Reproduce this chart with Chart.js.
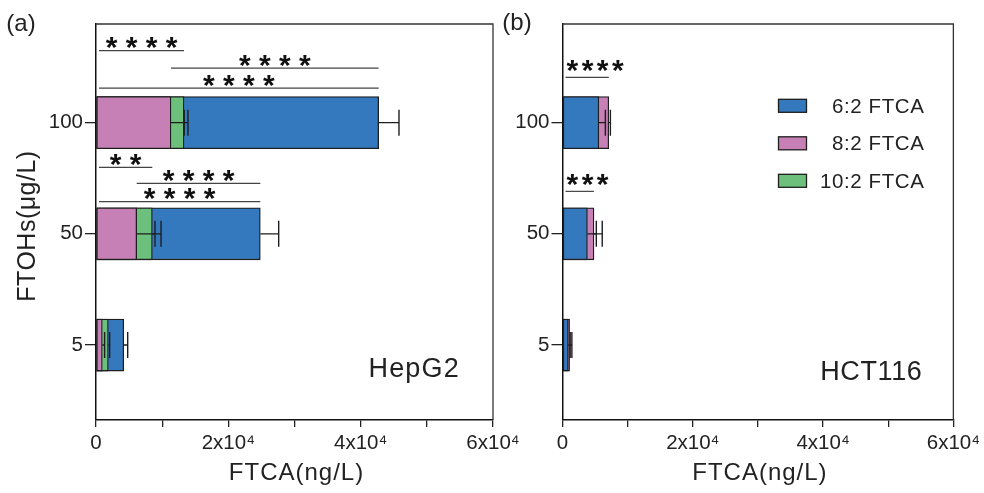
<!DOCTYPE html>
<html><head><meta charset="utf-8">
<script src="https://cdn.jsdelivr.net/npm/chart.js@4.4.1/dist/chart.umd.min.js"></script>
<style>
html,body{margin:0;padding:0;background:#fff;width:984px;height:493px;overflow:hidden;}
#ca{position:absolute;left:0;top:0;}
#cb{position:absolute;left:490px;top:0;}
</style></head><body>
<canvas id="ca" width="530" height="493"></canvas>
<canvas id="cb" width="494" height="493"></canvas>
<script>
// ---------- data ----------
const categories = ['5', '50', '100'];               // FTOHs (µg/L)
const seriesNames = ['6:2 FTCA', '8:2 FTCA', '10:2 FTCA'];
const xTickLabels = {0: '0', 20000: '2x10⁴', 40000: '4x10⁴', 60000: '6x10⁴'};

// HepG2 (ng/L)
const hep_62 = [4190, 24830, 42720];
const hep_82 = [950, 6150, 11330];
const hep_102 = [1860, 8510, 13300];
const hep_62_err = [600, 2780, 3070];
const hep_82_err = [350, 2770, 2000];
const hep_102_err = [200, 1320, 600];

// HCT116 (ng/L)
const hct_62 = [880, 3820, 5580];
const hct_82 = [1090, 4830, 7100];
const hct_102 = [null, null, null];
const hct_62_err = [300, 1370, 1000];
const hct_82_err = [350, 1270, 250];
const hct_102_err = [null, null, null];

// significance marks: from/to = series name (null = axis start)
const hepSig = [
  {cat: '100', from: null, to: '10:2 FTCA', stars: '* * * *', lift: 0.647},
  {cat: '100', from: '8:2 FTCA', to: '6:2 FTCA', stars: '* * * *', lift: 0.491},
  {cat: '100', from: null, to: '6:2 FTCA', stars: '* * * *', lift: 0.311},
  {cat: '50', from: null, to: '10:2 FTCA', stars: '* *', lift: 0.598},
  {cat: '50', from: '8:2 FTCA', to: '6:2 FTCA', stars: '* * * *', lift: 0.454},
  {cat: '50', from: null, to: '6:2 FTCA', stars: '* * * *', lift: 0.289}
];
const hctSig = [
  {cat: '100', from: null, to: '8:2 FTCA', stars: '****', lift: 0.407},
  {cat: '50', from: null, to: '8:2 FTCA', stars: '***', lift: 0.382}
];

// ---------- styling ----------
const FONT = "'Liberation Sans', Arial, sans-serif";
const COLORS = {'6:2 FTCA': '#3478be', '8:2 FTCA': '#c680b5', '10:2 FTCA': '#6cc07c'};
const EDGE = '#1e1e1e';
Chart.defaults.font.family = FONT;
Chart.defaults.color = '#222';

function pts(arr) { return arr.map((v, i) => ({x: v, y: i + 1})); }

function makeDatasets(vals, errs, orders) {
  return seriesNames.map((n, k) => ({
    label: n,
    data: pts(vals[k]),
    err: errs[k],
    backgroundColor: COLORS[n],
    borderColor: EDGE,
    borderWidth: 1.3,
    borderSkipped: false,
    barThickness: 52,
    grouped: false,
    order: orders[k]
  }));
}

const errorBars = {
  id: 'errorBars',
  afterDatasetsDraw(chart) {
    const ctx = chart.ctx, xs = chart.scales.x, ys = chart.scales.y;
    ctx.save();
    ctx.strokeStyle = EDGE; ctx.lineWidth = 1.4;
    chart.data.datasets.forEach(ds => {
      ds.data.forEach((p, i) => {
        const e = ds.err[i];
        if (p.x == null || e == null) return;
        const x0 = xs.getPixelForValue(p.x), x1 = xs.getPixelForValue(p.x + e);
        const y = ys.getPixelForValue(p.y);
        ctx.beginPath();
        ctx.moveTo(x0, y); ctx.lineTo(x1, y);
        ctx.moveTo(x1, y - 13); ctx.lineTo(x1, y + 13);
        ctx.stroke();
      });
    });
    ctx.restore();
  }
};

function drawText(ctx, txt, x, y, font, align, spacing) {
  ctx.font = font; ctx.textAlign = align || 'center'; ctx.fillStyle = '#222';
  ctx.textBaseline = 'alphabetic';
  ctx.letterSpacing = spacing || '0px';
  const m = ctx.measureText(txt);
  ctx.fillText(txt, x, y + (m.actualBoundingBoxAscent - m.actualBoundingBoxDescent) / 2);
  ctx.letterSpacing = '0px';
}

const decor = {
  id: 'decor',
  afterDraw(chart, args, opt) {
    const ctx = chart.ctx, a = chart.chartArea, xs = chart.scales.x, ys = chart.scales.y;
    ctx.save();
    // frame top & right
    ctx.strokeStyle = '#333'; ctx.lineWidth = 1.3;
    ctx.beginPath();
    ctx.moveTo(a.left, a.top); ctx.lineTo(a.right, a.top); ctx.lineTo(a.right, a.bottom);
    ctx.stroke();
    // significance
    opt.sig.forEach(s => {
      const ci = categories.indexOf(s.cat);
      const val = name => chart.data.datasets[seriesNames.indexOf(name)].data[ci].x;
      const xa = s.from ? xs.getPixelForValue(val(s.from)) : xs.getPixelForValue(0) + 3;
      const xb = xs.getPixelForValue(val(s.to));
      const y = ys.getPixelForValue(ci + 1 + s.lift);
      ctx.strokeStyle = '#444'; ctx.lineWidth = 1.2;
      ctx.beginPath(); ctx.moveTo(xa, y); ctx.lineTo(xb, y); ctx.stroke();
      ctx.font = 'bold 30px ' + FONT; ctx.fillStyle = '#111';
      ctx.letterSpacing = opt.starSpacing;
      ctx.textBaseline = 'alphabetic';
      const m = ctx.measureText(s.stars);
      const ty = y - opt.starGap + (m.actualBoundingBoxAscent - m.actualBoundingBoxDescent) / 2;
      if (opt.starAlign === 'left') { ctx.textAlign = 'left'; ctx.fillText(s.stars, xa + 1, ty); }
      else { ctx.textAlign = 'center'; ctx.fillText(s.stars, (xa + xb) / 2, ty); }
      ctx.letterSpacing = '0px';
    });
    // panel label, cell line, titles
    drawText(ctx, opt.panel, opt.panelX, opt.panelY, '24px ' + FONT);
    drawText(ctx, opt.cell, a.right - opt.cellInset, 370, '27px ' + FONT, 'right', opt.cellSpacing);
    drawText(ctx, 'FTCA(ng/L)', (a.left + a.right) / 2 + 2, 474, '24px ' + FONT, 'center', '1px');
    if (opt.yTitle) {
      ctx.save();
      ctx.translate(28, 226); ctx.rotate(-Math.PI / 2);
      drawText(ctx, opt.yTitle, 0, 0, '25px ' + FONT, 'center', '0.5px');
      ctx.restore();
    }
    // legend
    if (opt.legend) {
      chart.data.datasets.forEach((ds, k) => {
        const cy = 105.8 + k * 37.5;
        ctx.fillStyle = ds.backgroundColor; ctx.strokeStyle = EDGE; ctx.lineWidth = 1.3;
        ctx.fillRect(a.left + 216, cy - 6.5, 28, 13);
        ctx.strokeRect(a.left + 216, cy - 6.5, 28, 13);
        drawText(ctx, ds.label, a.left + 362, cy, '20.5px ' + FONT, 'right', '0.6px');
      });
    }
    ctx.restore();
  }
};

function makeChart(id, datasets, yWidth, padRight, opts) {
  return new Chart(document.getElementById(id), {
    type: 'bar',
    data: {datasets},
    options: {
      indexAxis: 'y',
      responsive: false,
      animation: false,
      layout: {padding: {left: 0, right: padRight, top: 24, bottom: 0}, autoPadding: false},
      plugins: {legend: {display: false}, tooltip: {enabled: false}, decor: opts},
      scales: {
        x: {
          type: 'linear', min: 0, max: 60000,
          afterFit: s => { s.height = 73; },
          ticks: {stepSize: 10000, autoSkip: false, maxRotation: 0, padding: 4,
                  font: {size: 20.5}, color: '#222',
                  callback: v => (xTickLabels[v] !== undefined ? xTickLabels[v] : '')},
          grid: {drawOnChartArea: false, drawTicks: true, tickLength: 7, color: '#222', lineWidth: 1.3},
          border: {display: true, color: '#111', width: 1.5}
        },
        y: {
          type: 'linear', min: 0.326, max: 3.887, offset: false,
          afterFit: s => { s.width = yWidth; },
          afterBuildTicks: s => { s.ticks = categories.map((c, i) => ({value: i + 1})); },
          ticks: {padding: 2, font: {size: 20.5}, color: '#222',
                  callback: v => categories[Math.round(v) - 1]},
          grid: {offset: false, drawOnChartArea: false, drawTicks: true, tickLength: 11, color: '#222', lineWidth: 1.3},
          border: {display: true, color: '#111', width: 1.5}
        }
      }
    },
    plugins: [errorBars, decor]
  });
}

makeChart('ca',
  makeDatasets([hep_62, hep_82, hep_102], [hep_62_err, hep_82_err, hep_102_err], [3, 1, 2]),
  96, 37,
  {sig: hepSig, starAlign: 'center', starGap: 7.5, starSpacing: '0px',
   panel: '(a)', panelX: 21, panelY: 25, cell: 'HepG2', cellInset: 33, cellSpacing: '1.2px',
   yTitle: 'FTOHs(μg/L)', legend: false});

makeChart('cb',
  makeDatasets([hct_62, hct_82, hct_102], [hct_62_err, hct_82_err, hct_102_err], [1, 3, 2]),
  72.5, 26,
  {sig: hctSig, starAlign: 'left', starGap: 11, starSpacing: '3.5px',
   panel: '(b)', panelX: 27, panelY: 24, cell: 'HCT116', cellInset: 31, cellSpacing: '0.6px',
   yTitle: null, legend: true});
</script>
</body></html>
